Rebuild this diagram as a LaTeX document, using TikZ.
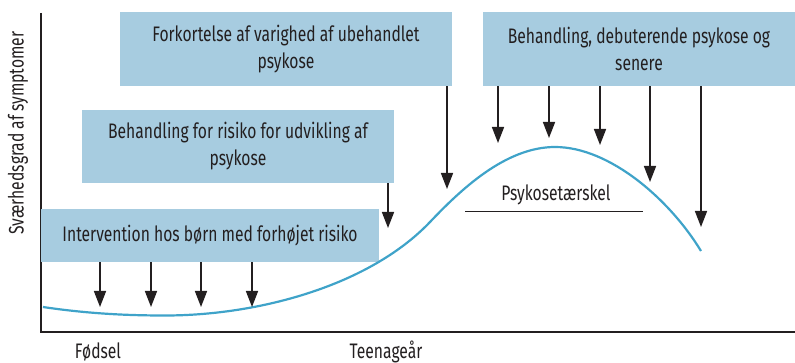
\documentclass[tikz,border=0pt]{standalone}
\usepackage{fontspec}
\setmainfont[FakeStretch=0.745]{Fira Sans}
\usetikzlibrary{arrows.meta}
\definecolor{boxblue}{HTML}{A7CCE0}
\definecolor{curveblue}{HTML}{3FA3C9}
\definecolor{ink}{HTML}{231F20}
\begin{document}
\begin{tikzpicture}
        [x=1pt,y=-1pt,
         box/.style ={fill=boxblue,align=center,inner sep=0pt,text=ink,font=\fontsize{21}{27}\selectfont},
         lbl/.style ={text=ink,font=\fontsize{21}{27}\selectfont},
         arr/.style ={draw=ink,line width=1.6pt,-{Triangle[width=12pt,length=16pt]}}]
        \useasboundingbox (0,0) rectangle (795,363);
        % axes
        \coordinate (top) at (41,13);
        \coordinate (origin) at (41,332);
        \coordinate (end) at (795,332);
        \draw[ink,line width=1.3pt] (top) -- (origin) -- (end);
        \node[lbl,rotate=90] (yl) at (18,133) {Sværhedsgrad af symptomer};
        \node[lbl,anchor=base] (birth) at (98,358) {Fødsel};
        \node[lbl,anchor=base] (teen) at (386,358) {Teenageår};
        % boxes
        \node[box,minimum width=338pt,minimum height=53pt] (a) at (210,235.5) {Intervention hos børn med forhøjet risiko};
        \node[box,minimum width=312pt,minimum height=73pt] (b) at (238,146.5) {Behandling for risiko for udvikling af\\psykose};
        \node[box,minimum width=332pt,minimum height=74pt] (c) at (286,49) {Forkortelse af varighed af ubehandlet\\psykose};
        \node[box,minimum width=312pt,minimum height=74pt] (d) at (639,49) {Behandling, debuterende psykose og\\senere};
        % curve and threshold
        \draw[curveblue,line width=2.2pt] (43,307) .. controls (90,314) and (130,315.5) .. (165,315.5)
            .. controls (260,315.5) and (370,285) .. (430,222)
            .. controls (460,190.5) and (505,147) .. (555,147)
            .. controls (610,147) and (670,200) .. (701,251);
        \coordinate (t1) at (465,212);
        \coordinate (t2) at (643,212);
        \draw[ink,line width=1pt] (t1) -- (t2);
        \node[lbl] (thr) at (556,195) {Psykosetærskel};
        % arrows
        \foreach \x in {100,151,201,252}
            \draw[arr] (\x,0 |- a.south) -- (\x,307);
        \coordinate (bt) at (388,228);
        \draw[arr] (bt |- b.south) -- (bt);
        \coordinate (ct) at (447,189);
        \draw[arr] (ct |- c.south) -- (ct);
        \foreach \x/\y in {498/143,549/138,600/145,650/182,701/227}
            \draw[arr] (\x,0 |- d.south) -- (\x,\y);
    \end{tikzpicture}
\end{document}
